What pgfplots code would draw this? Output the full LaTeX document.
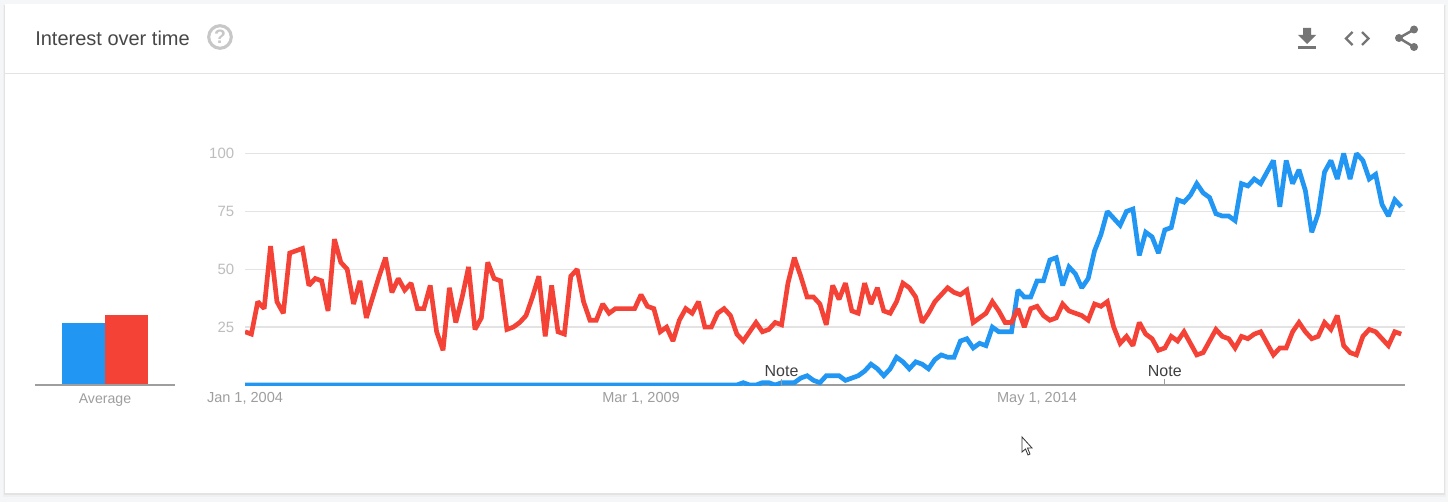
\documentclass[border=0pt]{standalone}
\usepackage{pgfplots}
\pgfplotsset{compat=1.18}
\usepackage{pgfplotstable}
\usepackage{fontspec}
\setmainfont{Liberation Sans}
\definecolor{gblue}{HTML}{2196F3}
\definecolor{gred}{HTML}{F44336}
\definecolor{ggrid}{HTML}{E3E3E3}
\definecolor{gtick}{HTML}{BDBDBD}
\definecolor{gaxis}{HTML}{9E9E9E}
\definecolor{gicon}{HTML}{757575}
\definecolor{gpage}{HTML}{F5F6F7}
\pgfplotstableread{
i red blue
0 23 0
1 22 0
2 36 0
3 33 0
4 60 0
5 36 0
6 31 0
7 57 0
8 58 0
9 59 0
10 43 0
11 46 0
12 45 0
13 32 0
14 63 0
15 53 0
16 50 0
17 35 0
18 45 0
19 29 0
20 38 0
21 47 0
22 55 0
23 40 0
24 46 0
25 41 0
26 44 0
27 33 0
28 33 0
29 43 0
30 23 0
31 15 0
32 42 0
33 27 0
34 38 0
35 51 0
36 24 0
37 29 0
38 53 0
39 46 0
40 45 0
41 24 0
42 25 0
43 27 0
44 30 0
45 38 0
46 47 0
47 21 0
48 43 0
49 23 0
50 22 0
51 47 0
52 50 0
53 36 0
54 28 0
55 28 0
56 35 0
57 31 0
58 33 0
59 33 0
60 33 0
61 33 0
62 39 0
63 34 0
64 33 0
65 23 0
66 25 0
67 19 0
68 28 0
69 33 0
70 31 0
71 36 0
72 25 0
73 25 0
74 31 0
75 33 0
76 30 0
77 22 0
78 19 1
79 23 0
80 27 0
81 23 1
82 24 1
83 27 0
84 26 1
85 44 1
86 55 1
87 47 3
88 38 4
89 38 2
90 35 1
91 26 4
92 43 4
93 37 4
94 44 2
95 32 3
96 31 4
97 44 6
98 35 9
99 42 7
100 32 4
101 31 7
102 36 12
103 44 10
104 42 7
105 38 10
106 27 9
107 31 7
108 36 11
109 39 13
110 42 12
111 40 12
112 39 19
113 41 20
114 27 16
115 29 18
116 31 17
117 36 25
118 32 23
119 27 23
120 27 23
121 33 41
122 25 38
123 33 38
124 34 45
125 30 45
126 28 54
127 29 55
128 35 43
129 32 51
130 31 48
131 30 42
132 28 46
133 35 58
134 34 65
135 36 75
136 25 72
137 18 69
138 21 75
139 17 76
140 27 56
141 22 66
142 20 64
143 15 57
144 16 67
145 21 68
146 19 80
147 23 79
148 18 82
149 13 87
150 14 83
151 19 81
152 24 74
153 21 73
154 20 73
155 16 71
156 21 87
157 20 86
158 22 89
159 23 87
160 18 92
161 13 97
162 16 77
163 16 97
164 23 87
165 27 93
166 23 84
167 20 66
168 21 74
169 27 92
170 24 97
171 30 89
172 17 100
173 14 89
174 13 100
175 21 97
176 24 89
177 23 91
178 20 78
179 17 73
180 23 80
181 22 77
}\trends
\begin{document}
\begin{tikzpicture}[x=0.75pt,y=-0.75pt]
\fill[gpage] (0,0) rectangle (1448,502);
\useasboundingbox (0,0) rectangle (1448,502);
% card with soft shadow
\fill[black!6] (3,5) rectangle (1446,497);
\fill[black!11] (4,5) rectangle (1445,495);
\fill[white] (5,4) rectangle (1444,493);
\draw[draw=ggrid,line width=0.75pt] (5,73.5) -- (1444,73.5);
% header
\node[anchor=west,inner sep=0pt,font=\fontsize{15pt}{17pt}\selectfont,text=black!72] at (35,38) {Interest over time};
\draw[gtick!85,line width=2.3pt] (220,37) circle (11.3);
\node[inner sep=0pt,font=\fontsize{14.5pt}{15pt}\selectfont\bfseries,text=gtick!85] at (220,37) {?};
% download
\fill[gicon] (1303,28) -- (1311,28) -- (1311,35) -- (1316,35) -- (1307,44) -- (1298,35) -- (1303,35) -- cycle;
\fill[gicon] (1298,46.5) rectangle (1316,49);
% code
\draw[gicon,line width=1.7pt] (1352.5,32) -- (1346,38.5) -- (1352.5,45);
\draw[gicon,line width=1.7pt] (1362,32) -- (1368.5,38.5) -- (1362,45);
% share
\draw[gicon,line width=1.9pt] (1414,29.5) -- (1399,38) -- (1414,47);
\fill[gicon] (1414,29.5) circle (4) (1399,38) circle (4) (1414,47) circle (4);
% average bars
\begin{axis}[
  at={(26.25pt,-288.75pt)},anchor=origin,
  scale only axis,width=105pt,height=173.6pt,
  xmin=0,xmax=140,ymin=0,ymax=100,
  axis x line=bottom,axis y line=none,
  x axis line style={gaxis,line width=0.9pt,-},
  xtick={70},xticklabels={Average},
  tick style={draw=none},
  xticklabel style={font=\fontsize{10.6pt}{12pt}\selectfont,text=gaxis,yshift=1pt},
  ybar,bar width=31.9pt,
  axis on top=true,
]
\addplot[bar shift=0pt,fill=gblue,draw=none] coordinates {(48.75,26.8)};
\addplot[bar shift=0pt,fill=gred,draw=none] coordinates {(91.25,30.2)};
\end{axis}
% main chart
\begin{axis}[
  at={(183.75pt,-288.75pt)},anchor=origin,
  scale only axis,width=870pt,height=182.28pt,
  xmin=0,xmax=181.6,ymin=0,ymax=105,
  clip mode=individual,
  axis x line=bottom,axis y line=left,
  x axis line style={gaxis,line width=0.9pt,-},
  y axis line style={draw=none},
  xtick={0,62,124},xticklabels={{Jan 1, 2004},{Mar 1, 2009},{May 1, 2014}},
  ytick={25,50,75,100},
  tick style={draw=none},
  ymajorgrids,
  grid style={ggrid,line width=1.1pt},
  xticklabel style={font=\fontsize{10.9pt}{12pt}\selectfont,text=gaxis},
  yticklabel style={font=\fontsize{11.2pt}{12pt}\selectfont,text=gtick,xshift=-2.5pt},
  /pgf/number format/assume math mode=true,
  line join=miter,
]
\addplot[gblue,line width=3.5pt,no marks,miter limit=2] table[x=i,y=blue] {\trends};
\addplot[gred,line width=3.5pt,no marks,miter limit=2] table[x=i,y=red] {\trends};
\draw[gaxis,line width=0.6pt] (axis cs:84,0) -- (axis cs:84,2.6);
\draw[gaxis,line width=0.6pt] (axis cs:144,0) -- (axis cs:144,2.6);
\node[inner sep=0pt,font=\fontsize{12pt}{13pt}\selectfont,text=black!75] at (axis cs:84,5.9) {Note};
\node[inner sep=0pt,font=\fontsize{12pt}{13pt}\selectfont,text=black!75] at (axis cs:144,5.9) {Note};
\end{axis}
% mouse pointer
\draw[black!80,fill=white,line width=0.6pt,line join=miter] (1022,437) -- (1022,452) -- (1025.5,449) -- (1028,455) -- (1030,454) -- (1027.5,448) -- (1032,448) -- cycle;
\end{tikzpicture}
\end{document}
